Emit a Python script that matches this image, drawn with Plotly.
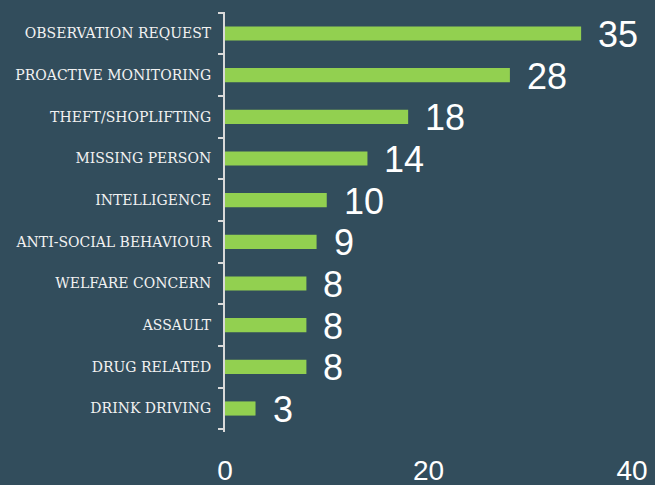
import plotly.graph_objects as go

categories = ["OBSERVATION REQUEST", "PROACTIVE MONITORING", "THEFT/SHOPLIFTING",
              "MISSING PERSON", "INTELLIGENCE", "ANTI-SOCIAL BEHAVIOUR",
              "WELFARE CONCERN", "ASSAULT", "DRUG RELATED", "DRINK DRIVING"]
values = [35, 28, 18, 14, 10, 9, 8, 8, 8, 3]
x_ticks = [0, 20, 40]

BG = "#324d5c"
GREEN = "#92d050"
FONT = "DejaVu Serif"

fig = go.Figure()
fig.add_trace(go.Bar(
    y=categories, x=values, orientation="h",
    marker=dict(color=GREEN, line=dict(width=0)),
    width=0.34,
    hoverinfo="skip",
))

for c, v in zip(categories, values):
    fig.add_annotation(x=v, y=c, text=str(v), showarrow=False,
                       xanchor="left", yanchor="middle", xshift=15, yshift=-1,
                       font=dict(family="Liberation Sans", size=36, color="white"))

fig.update_layout(
    width=655, height=485,
    paper_bgcolor=BG, plot_bgcolor=BG,
    margin=dict(l=225, r=23, t=12, b=53),
    showlegend=False,
    font=dict(family=FONT, color="white"),
    xaxis=dict(range=[0, 40], tickvals=x_ticks, showgrid=False, zeroline=False,
               showline=False, ticks="", ticklabelstandoff=19, automargin=False,
               tickfont=dict(family="Liberation Sans", size=28, color="white"),
               fixedrange=True),
    yaxis=dict(categoryorder="array", categoryarray=categories[::-1],
               showgrid=False, zeroline=False, showline=True, automargin=False,
               linecolor="#d9d9d9", linewidth=2,
               ticks="outside", tickson="boundaries", ticklen=5,
               tickcolor="#d9d9d9", tickwidth=1.5,
               tickfont=dict(family=FONT, size=14, color="#f2f2f2"),
               ticklabelstandoff=9),
)

fig.write_html("out.html", config={"displayModeBar": False},
               post_script="document.body.style.margin='0';")
